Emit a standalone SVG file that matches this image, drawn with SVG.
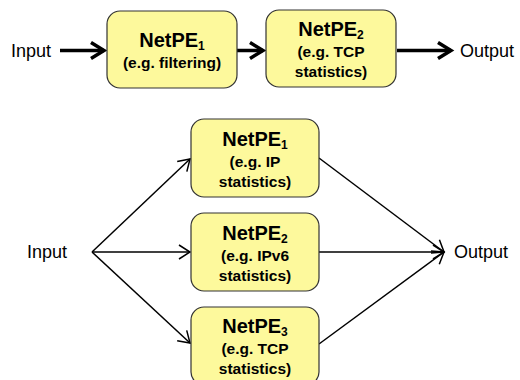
<svg xmlns="http://www.w3.org/2000/svg" width="520" height="380" viewBox="0 0 520 380">
<defs>
<style>
.box{fill:#fdf99c;stroke:#333;stroke-width:1.2}
.t{font-family:"Liberation Sans",Arial,sans-serif;fill:#000}
.title{font-size:20px;font-weight:bold}
.sub{font-size:12px}
.small{font-size:15.5px;font-weight:bold}
.lbl{font-size:18px}
.thick{stroke:#000;stroke-width:3.5;fill:none}
.thin{stroke:#000;stroke-width:1.5;fill:none}
</style>
<marker id="ah" markerUnits="userSpaceOnUse" markerWidth="30" markerHeight="30" viewBox="-20 -15 30 30" refX="0" refY="0" orient="auto" overflow="visible">
<path d="M-13,-8 L0,0 L-13,8" fill="none" stroke="#000" stroke-width="3.5"/>
</marker>
<marker id="at" markerUnits="userSpaceOnUse" markerWidth="30" markerHeight="30" viewBox="-20 -15 30 30" refX="0" refY="0" orient="auto" overflow="visible">
<path d="M-11,-7 L0,0 L-11,7" fill="none" stroke="#000" stroke-width="1.5"/>
</marker>
</defs>
<rect width="520" height="380" fill="#fff"/>
<g id="connectors">
<line class="thick" x1="60" y1="50.5" x2="104" y2="50.5" marker-end="url(#ah)"/>
<line class="thick" x1="237" y1="50.5" x2="263" y2="50.5" marker-end="url(#ah)"/>
<line class="thick" x1="397" y1="50.5" x2="451" y2="50.5" marker-end="url(#ah)"/>
<line class="thin" x1="92" y1="252" x2="190" y2="159" marker-end="url(#at)"/>
<line class="thin" x1="92" y1="252" x2="190" y2="252" marker-end="url(#at)"/>
<line class="thin" x1="92" y1="252" x2="190" y2="343" marker-end="url(#at)"/>
<line class="thin" x1="319" y1="158" x2="444" y2="252" marker-end="url(#at)"/>
<line class="thin" x1="319" y1="252" x2="444" y2="252" marker-end="url(#at)"/>
<line class="thin" x1="319" y1="344" x2="444" y2="252" marker-end="url(#at)"/>
</g>
<g id="input-top"><text class="t lbl" x="11" y="57">Input</text></g>
<g id="output-top"><text class="t lbl" x="460" y="57">Output</text></g>
<g id="netpe1-top">
<rect class="box" x="107" y="11" width="130" height="77" rx="13"/>
<text class="t title" x="172" y="47" text-anchor="middle">NetPE<tspan class="sub" dy="3">1</tspan></text>
<text class="t small" x="172" y="68" text-anchor="middle">(e.g. filtering)</text>
</g>
<g id="netpe2-top">
<rect class="box" x="266" y="10" width="130" height="77" rx="13"/>
<text class="t title" x="331" y="36" text-anchor="middle">NetPE<tspan class="sub" dy="3">2</tspan></text>
<text class="t small" x="331" y="57" text-anchor="middle">(e.g. TCP</text>
<text class="t small" x="331" y="77" text-anchor="middle">statistics)</text>
</g>
<g id="input-bottom"><text class="t lbl" x="27" y="258">Input</text></g>
<g id="output-bottom"><text class="t lbl" x="454" y="258">Output</text></g>
<g id="netpe1-bottom">
<rect class="box" x="191" y="119" width="128" height="78" rx="13"/>
<text class="t title" x="255" y="146" text-anchor="middle">NetPE<tspan class="sub" dy="3">1</tspan></text>
<text class="t small" x="255" y="167" text-anchor="middle">(e.g. IP</text>
<text class="t small" x="255" y="187" text-anchor="middle">statistics)</text>
</g>
<g id="netpe2-bottom">
<rect class="box" x="191" y="213" width="128" height="78" rx="13"/>
<text class="t title" x="255" y="240" text-anchor="middle">NetPE<tspan class="sub" dy="3">2</tspan></text>
<text class="t small" x="255" y="261" text-anchor="middle">(e.g. IPv6</text>
<text class="t small" x="255" y="281" text-anchor="middle">statistics)</text>
</g>
<g id="netpe3-bottom">
<rect class="box" x="191" y="307" width="128" height="78" rx="13"/>
<text class="t title" x="255" y="333" text-anchor="middle">NetPE<tspan class="sub" dy="3">3</tspan></text>
<text class="t small" x="255" y="354" text-anchor="middle">(e.g. TCP</text>
<text class="t small" x="255" y="374" text-anchor="middle">statistics)</text>
</g>
</svg>
